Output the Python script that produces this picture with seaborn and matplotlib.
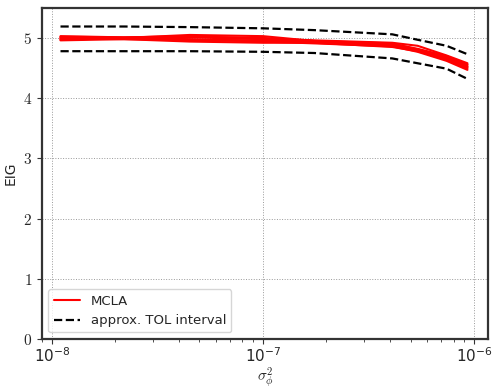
import numpy as np
import pandas as pd
import seaborn as sns
import matplotlib
matplotlib.use("Agg")
import matplotlib.pyplot as plt
from matplotlib.ticker import LogFormatterMathtext, FuncFormatter, LogLocator

# Data
sigma2 = [1.1e-8, 2.2e-8, 4.5e-8, 1.0e-7, 1.75e-7, 4.1e-7, 5.4e-7, 7.4e-7, 9.3e-7]
mcla_runs = [
    [5.01, 5.00, 5.05, 5.03, 4.95, 4.90, 4.82, 4.70, 4.55],
    [4.98, 4.99, 4.96, 4.95, 4.93, 4.88, 4.79, 4.66, 4.51],
    [5.03, 5.01, 5.03, 4.99, 4.96, 4.92, 4.87, 4.71, 4.58],
    [4.96, 4.98, 4.94, 4.92, 4.92, 4.85, 4.78, 4.64, 4.49],
    [5.00, 4.99, 5.01, 4.98, 4.94, 4.89, 4.80, 4.68, 4.53],
    [4.97, 5.00, 4.98, 4.94, 4.91, 4.86, 4.77, 4.62, 4.47],
    [5.02, 5.01, 5.02, 5.00, 4.95, 4.91, 4.81, 4.69, 4.56],
    [4.99, 4.98, 4.97, 4.96, 4.93, 4.87, 4.79, 4.65, 4.52],
]
tol_upper = [5.19, 5.19, 5.18, 5.16, 5.13, 5.06, 4.97, 4.87, 4.73]
tol_lower = [4.78, 4.78, 4.78, 4.77, 4.75, 4.66, 4.58, 4.49, 4.32]
yticks = [0, 1, 2, 3, 4, 5]

sns.set_style("ticks")
plt.rcParams["mathtext.fontset"] = "cm"
plt.rcParams["font.family"] = ["DejaVu Sans"]

fig = plt.figure(figsize=(4.98, 3.92), dpi=100)
ax = fig.add_axes([0.084, 0.135, 0.896, 0.845])

rows = []
for r, vals in enumerate(mcla_runs):
    for x, v in zip(sigma2, vals):
        rows.append({"run": r, "sigma2": x, "EIG": v})
df = pd.DataFrame(rows)

for r in range(len(mcla_runs)):
    sub = df[df["run"] == r]
    sns.lineplot(data=sub, x="sigma2", y="EIG", ax=ax, color="red", lw=1.5,
                 label="MCLA" if r == 0 else None, estimator=None, sort=False)

tol = pd.DataFrame({"sigma2": sigma2, "up": tol_upper, "lo": tol_lower})
sns.lineplot(data=tol, x="sigma2", y="up", ax=ax, color="black", lw=1.6,
             linestyle="--", label="approx. TOL interval", estimator=None)
sns.lineplot(data=tol, x="sigma2", y="lo", ax=ax, color="black", lw=1.6,
             linestyle="--", estimator=None)

ax.set_xscale("log")
ax.set_xlim(10**-8.047, 10**-5.934)
ax.set_ylim(0, 5.5)
ax.set_yticks(yticks)
ax.yaxis.set_major_formatter(FuncFormatter(lambda v, p: r"$%d$" % v))
ax.xaxis.set_major_locator(LogLocator(base=10))
ax.xaxis.set_major_formatter(LogFormatterMathtext())
ax.grid(True, which="major", color="#999999", linestyle=":", lw=0.7)
ax.set_xlabel(r"$\sigma_\phi^2$", fontsize=11, labelpad=0)
ax.set_ylabel("EIG", fontsize=10)
ax.tick_params(axis="both", labelsize=11, direction="out", color="#333333")
ax.tick_params(axis="x", which="major", pad=2)
ax.tick_params(axis="x", which="minor", length=2.5, color="#333333")
for s in ax.spines.values():
    s.set_visible(True)
    s.set_color("#333333")
    s.set_linewidth(1.6)

leg = ax.legend(loc="lower left", fontsize=9.5, frameon=True, fancybox=True,
                handlelength=2.0)
leg.get_frame().set_edgecolor("#cccccc")

fig.savefig("out.png", dpi=100)
